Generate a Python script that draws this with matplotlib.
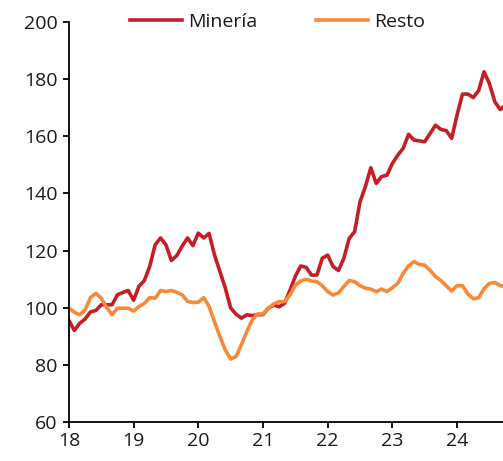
import matplotlib
matplotlib.use("Agg")
import matplotlib.pyplot as plt
import numpy as np

# Series mensuales desde enero 2018
mineria = [95.5, 92.0, 94.5, 96.0, 98.5, 99.0, 101.0, 101.0, 101.0, 104.5, 105.3, 106.0,
           102.6, 107.5, 109.5, 114.5, 122.0, 124.4, 122.0, 116.5, 118.2, 121.5, 124.4, 121.7,
           126.1, 124.4, 126.0, 118.5, 112.7, 106.9, 99.9, 97.7, 96.3, 97.5, 97.2, 97.5,
           97.6, 99.8, 100.9, 100.3, 101.5, 106.0, 111.0, 114.6, 114.1, 111.4, 111.4, 117.3,
           118.4, 114.4, 113.0, 117.3, 124.3, 126.6, 137.1, 142.4, 149.0, 143.5, 145.9, 146.4,
           150.5, 153.4, 155.8, 160.7, 158.7, 158.4, 158.1, 161.0, 163.9, 162.4, 162.0, 159.3,
           167.5, 174.8, 174.8, 173.6, 176.0, 182.6, 178.5, 172.1, 169.4, 171.0]
resto = [99.8, 98.4, 97.5, 99.2, 103.5, 105.0, 103.3, 100.1, 97.5, 99.8, 99.8, 99.8,
         98.8, 100.4, 101.5, 103.5, 103.3, 106.0, 105.6, 106.0, 105.4, 104.5, 102.2, 101.8,
         101.9, 103.5, 100.4, 95.1, 89.9, 85.2, 82.0, 82.9, 87.0, 91.6, 95.7, 97.8,
         97.8, 99.8, 101.3, 102.1, 102.1, 104.4, 107.9, 109.3, 109.9, 109.3, 109.1, 107.7,
         105.6, 104.4, 105.2, 107.4, 109.5, 109.1, 107.7, 106.8, 106.5, 105.6, 106.5, 105.6,
         107.0, 108.5, 112.0, 114.6, 116.1, 115.1, 114.9, 113.0, 110.9, 109.5, 107.6, 105.8,
         107.7, 107.7, 104.8, 103.1, 103.5, 106.6, 108.5, 108.8, 107.7, 107.4]
labels = ["Minería", "Resto"]
x_ticks = [18, 19, 20, 21, 22, 23, 24]
y_ticks = [60, 80, 100, 120, 140, 160, 180, 200]

x = 18 + np.arange(len(mineria)) / 12

plt.rcParams['font.family'] = ['Open Sans', 'DejaVu Sans']

fig = plt.figure(figsize=(5.03, 4.61), dpi=100)
ax = fig.add_axes([0.137, 0.085, 0.863, 0.867])

ax.plot(x, mineria, color='#C41E26', lw=2.6, label=labels[0], solid_joinstyle='round')
ax.plot(x, resto, color='#F58A3A', lw=2.6, label=labels[1], solid_joinstyle='round')

ax.set_xlim(18, 24.71)
ax.set_ylim(60, 200)
ax.set_xticks(x_ticks)
ax.set_xticklabels([str(t) for t in x_ticks])
ax.set_yticks(y_ticks)

ax.spines['right'].set_visible(False)
ax.spines['top'].set_visible(False)
ax.spines['left'].set_linewidth(1.3)
ax.spines['bottom'].set_linewidth(1.3)
ax.tick_params(axis='both', direction='out', length=4.5, width=1.3, labelsize=14,
               colors='black', labelcolor='#1a1a1a')
ax.tick_params(axis='x', pad=3)

ax.legend(loc='center', bbox_to_anchor=(0.48, 1.0), ncol=2, frameon=False,
          fontsize=14, handlelength=2.7, handletextpad=0.3, columnspacing=3.0,
          labelcolor='#1a1a1a')

fig.savefig('out.png', dpi=100)
